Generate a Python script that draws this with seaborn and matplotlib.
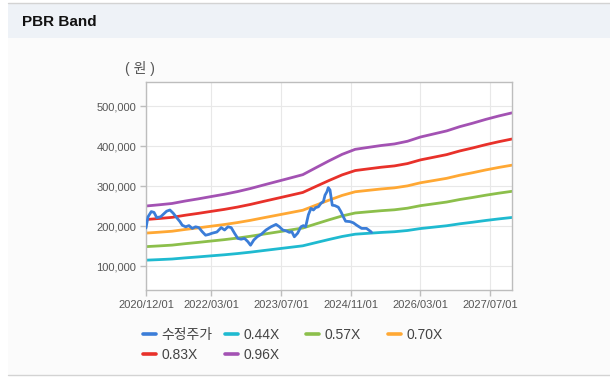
"""PBR band chart: adjusted price against book-value multiples."""
import matplotlib
matplotlib.use("Agg")
import matplotlib.pyplot as plt
import matplotlib.dates as mdates
from matplotlib.lines import Line2D
from matplotlib.patches import Rectangle
import pandas as pd
import seaborn as sns

# quarterly book value per share (won)
BAND_DATES = pd.date_range("2020-12-01", "2027-12-01", freq="QS-DEC")
BPS = [
    260400, 263500, 267000, 273400, 279000, 285000, 291000, 298000,
    306000, 315000, 324000, 333000, 342000, 360000, 378000, 395000,
    408000, 413000, 418000, 422000, 429000, 440000, 448000, 456000,
    467000, 476000, 486000, 495000, 503000,
]
MULTIPLES = [0.44, 0.57, 0.70, 0.83, 0.96]
BAND_LABELS = ["0.44X", "0.57X", "0.70X", "0.83X", "0.96X"]
BAND_COLORS = ["#1fbad0", "#8cbf4b", "#ffa834", "#e8312a", "#a352b3"]

# adjusted close (수정주가)
PRICE_LABEL = "수정주가"
PRICE_COLOR = "#3b7dd8"
PRICE_DATES = [
    "2020-12-01", "2020-12-15", "2021-01-07", "2021-01-26", "2021-02-14",
    "2021-03-13", "2021-04-24", "2021-05-17", "2021-06-09", "2021-07-03",
    "2021-07-26", "2021-08-11", "2021-09-04", "2021-09-27", "2021-10-20",
    "2021-11-12", "2021-12-05", "2021-12-28", "2022-01-21", "2022-02-13",
    "2022-03-08", "2022-04-10", "2022-05-10", "2022-06-03", "2022-06-26",
    "2022-07-19", "2022-08-11", "2022-09-03", "2022-09-26", "2022-10-20",
    "2022-11-12", "2022-12-01", "2022-12-24", "2023-01-16", "2023-02-13",
    "2023-03-19", "2023-04-23", "2023-05-28", "2023-06-21", "2023-07-14",
    "2023-08-06", "2023-08-30", "2023-09-15", "2023-10-03", "2023-10-26",
    "2023-11-18", "2023-12-05", "2023-12-21", "2024-01-09", "2024-01-27",
    "2024-02-13", "2024-02-29", "2024-03-19", "2024-04-06", "2024-04-23",
    "2024-05-04", "2024-05-18", "2024-05-27", "2024-06-08", "2024-06-15",
    "2024-06-24", "2024-07-12", "2024-08-05", "2024-08-23", "2024-09-09",
    "2024-09-25", "2024-10-25", "2024-11-18", "2024-12-11", "2025-01-15",
    "2025-02-18", "2025-03-20", "2025-03-25",
]
PRICE = [
    195000, 223000, 236000, 234000, 221000, 223000, 237000, 240000,
    232000, 221000, 211000, 202000, 198000, 201000, 194000, 198000,
    196000, 186000, 177000, 179000, 182000, 185000, 196000, 190000,
    198000, 196000, 182000, 169000, 167000, 169000, 161000, 152000,
    165000, 173000, 179000, 190000, 198000, 204000, 198000, 190000,
    188000, 184000, 186000, 173000, 182000, 198000, 201000, 198000,
    228000, 244000, 240000, 246000, 248000, 257000, 261000, 277000,
    286000, 296000, 290000, 273000, 252000, 251000, 247000, 236000,
    223000, 212000, 211000, 208000, 202000, 194000, 194000, 186000,
    184000,
]

X_TICKS = ["2020-12-01", "2022-03-01", "2023-07-01", "2024-11-01",
           "2026-03-01", "2027-07-01"]
Y_TICKS = [100000, 200000, 300000, 400000, 500000]

W, H = 610, 385

sns.set_theme(style="white")
plt.rcParams["font.family"] = ["Liberation Sans", "Noto Sans CJK KR"]

fig = plt.figure(figsize=(W / 100, H / 100), dpi=100)
fig.patch.set_facecolor("white")

# page chrome: header band, body panel, rules
fig.patches.append(Rectangle((8 / W, 1 - 375 / H), 602 / W, 337 / H,
                             transform=fig.transFigure, facecolor="#fbfbfb",
                             edgecolor="none", zorder=-10))
fig.patches.append(Rectangle((8 / W, 1 - 38 / H), 602 / W, 35 / H,
                             transform=fig.transFigure, facecolor="#eef2f7",
                             edgecolor="none", zorder=-10))
for y in (3, 375):
    fig.add_artist(Line2D([8 / W, 1], [1 - y / H, 1 - y / H],
                          transform=fig.transFigure, color="#d3d3d3", lw=1,
                          zorder=-5))
fig.text(22 / W, 1 - 22 / H, "PBR Band", fontsize=11, fontweight="bold",
         va="center", ha="left", color="#111111")
fig.text(140 / W, 1 - 69 / H, "( 원 )", fontsize=10, va="center",
         ha="center", color="#555555")

ax = fig.add_axes([146 / W, 1 - 290 / H, 366 / W, 208 / H])
ax.set_facecolor("white")

band_df = pd.concat([
    pd.DataFrame({"date": BAND_DATES,
                  "value": [b * m for b in BPS],
                  "series": label})
    for label, m in zip(BAND_LABELS, MULTIPLES)
])
sns.lineplot(data=band_df, x="date", y="value", hue="series",
             palette=dict(zip(BAND_LABELS, BAND_COLORS)), linewidth=2.0,
             legend=False, ax=ax)
sns.lineplot(x=pd.to_datetime(PRICE_DATES), y=PRICE, color=PRICE_COLOR,
             linewidth=2.0, ax=ax, zorder=5)

ax.set_xlim(pd.Timestamp("2020-12-01"), pd.Timestamp("2027-12-01"))
ax.set_ylim(40000, 560000)
ax.set_xticks(pd.to_datetime(X_TICKS))
ax.xaxis.set_major_formatter(mdates.DateFormatter("%Y/%m/%d"))
ax.set_yticks(Y_TICKS)
ax.set_yticklabels([f"{v:,}" for v in Y_TICKS])
ax.set_xlabel("")
ax.set_ylabel("")
ax.grid(True, color="#e8e8e8", lw=0.8)
for spine in ax.spines.values():
    spine.set_color("#bdbdbd")
    spine.set_linewidth(1)
ax.tick_params(axis="both", labelsize=8, labelcolor="#555555",
               color="#bdbdbd", length=4, width=1, pad=3, left=True,
               bottom=True)

# legend: fixed-width columns, filled row by row
handles = [Line2D([], [], color=PRICE_COLOR, lw=2.6)] + [
    Line2D([], [], color=c, lw=2.6) for c in BAND_COLORS]
labels = [PRICE_LABEL] + BAND_LABELS
columns = [[0, 4], [1, 5], [2], [3]]
col_x = [143, 225, 306, 388]
for idx, x in zip(columns, col_x):
    leg = fig.legend([handles[i] for i in idx], [labels[i] for i in idx],
                     loc="upper left", bbox_to_anchor=(x / W, 1 - 328 / H),
                     frameon=False, borderpad=0, borderaxespad=0,
                     handlelength=0.95, handletextpad=0.35, labelspacing=0.4,
                     fontsize=10, labelcolor="#444444")

fig.savefig("out.png", dpi=100)
